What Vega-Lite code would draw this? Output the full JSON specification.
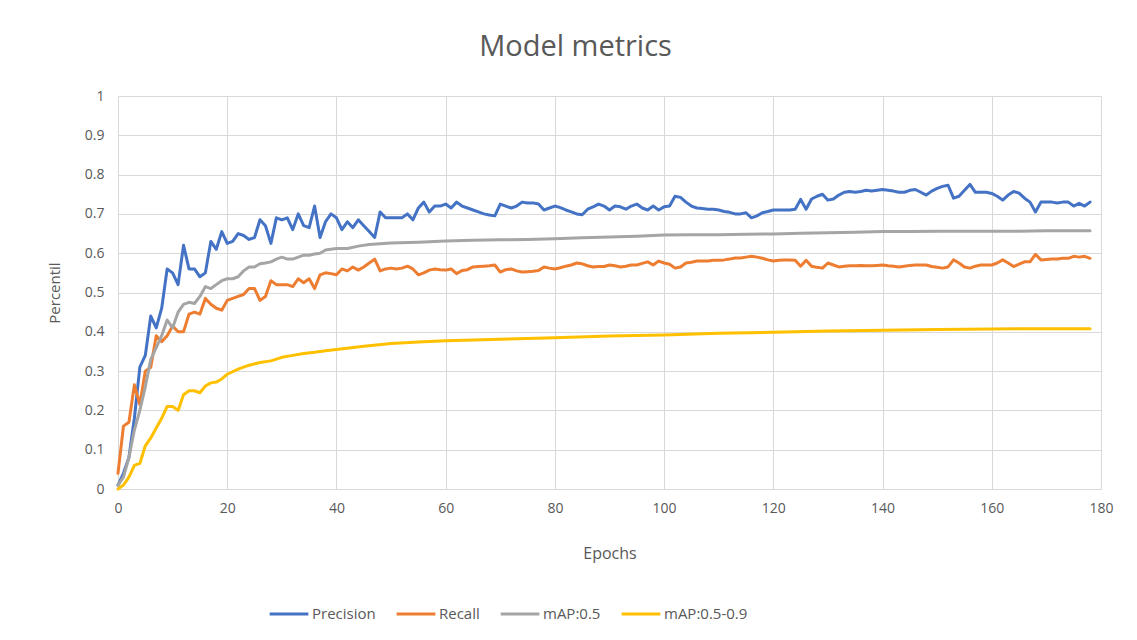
{
  "$schema": "https://vega.github.io/schema/vega-lite/v6.json",
  "width": 983,
  "height": 393,
  "autosize": {"type": "none"},
  "padding": {"left": 118, "top": 96, "right": 36, "bottom": 151},
  "background": "white",
  "title": {"text": "Model metrics", "fontSize": 29, "font": "Open Sans", "fontWeight": "normal", "color": "#595959", "anchor": "middle", "dx": -34, "offset": 4, "baseline": "alphabetic"},
  "config": {
    "view": {"stroke": null},
    "font": "Open Sans",
    "axis": {"labelFont": "Open Sans", "titleFont": "Open Sans", "labelColor": "#595959", "titleColor": "#595959", "titleFontWeight": "normal", "gridColor": "#D9D9D9", "gridWidth": 1, "domainColor": "#D9D9D9", "ticks": false, "labelFlush": false}
  },
  "data": {
    "values": [
      {"epoch":0,"metric":"Precision","value":0.01},{"epoch":1,"metric":"Precision","value":0.04},{"epoch":2,"metric":"Precision","value":0.08},{"epoch":3,"metric":"Precision","value":0.18},{"epoch":4,"metric":"Precision","value":0.31},{"epoch":5,"metric":"Precision","value":0.34},{"epoch":6,"metric":"Precision","value":0.44},{"epoch":7,"metric":"Precision","value":0.41},{"epoch":8,"metric":"Precision","value":0.46},{"epoch":9,"metric":"Precision","value":0.56},
      {"epoch":10,"metric":"Precision","value":0.55},{"epoch":11,"metric":"Precision","value":0.52},{"epoch":12,"metric":"Precision","value":0.62},{"epoch":13,"metric":"Precision","value":0.56},{"epoch":14,"metric":"Precision","value":0.56},{"epoch":15,"metric":"Precision","value":0.54},{"epoch":16,"metric":"Precision","value":0.55},{"epoch":17,"metric":"Precision","value":0.63},{"epoch":18,"metric":"Precision","value":0.61},{"epoch":19,"metric":"Precision","value":0.655},
      {"epoch":20,"metric":"Precision","value":0.625},{"epoch":21,"metric":"Precision","value":0.63},{"epoch":22,"metric":"Precision","value":0.65},{"epoch":23,"metric":"Precision","value":0.645},{"epoch":24,"metric":"Precision","value":0.635},{"epoch":25,"metric":"Precision","value":0.64},{"epoch":26,"metric":"Precision","value":0.685},{"epoch":27,"metric":"Precision","value":0.67},{"epoch":28,"metric":"Precision","value":0.625},{"epoch":29,"metric":"Precision","value":0.69},
      {"epoch":30,"metric":"Precision","value":0.685},{"epoch":31,"metric":"Precision","value":0.69},{"epoch":32,"metric":"Precision","value":0.66},{"epoch":33,"metric":"Precision","value":0.7},{"epoch":34,"metric":"Precision","value":0.67},{"epoch":35,"metric":"Precision","value":0.665},{"epoch":36,"metric":"Precision","value":0.72},{"epoch":37,"metric":"Precision","value":0.64},{"epoch":38,"metric":"Precision","value":0.68},{"epoch":39,"metric":"Precision","value":0.7},
      {"epoch":40,"metric":"Precision","value":0.69},{"epoch":41,"metric":"Precision","value":0.66},{"epoch":42,"metric":"Precision","value":0.68},{"epoch":43,"metric":"Precision","value":0.665},{"epoch":44,"metric":"Precision","value":0.685},{"epoch":45,"metric":"Precision","value":0.67},{"epoch":46,"metric":"Precision","value":0.655},{"epoch":47,"metric":"Precision","value":0.64},{"epoch":48,"metric":"Precision","value":0.705},{"epoch":49,"metric":"Precision","value":0.69},
      {"epoch":50,"metric":"Precision","value":0.69},{"epoch":51,"metric":"Precision","value":0.69},{"epoch":52,"metric":"Precision","value":0.69},{"epoch":53,"metric":"Precision","value":0.7},{"epoch":54,"metric":"Precision","value":0.685},{"epoch":55,"metric":"Precision","value":0.715},{"epoch":56,"metric":"Precision","value":0.73},{"epoch":57,"metric":"Precision","value":0.705},{"epoch":58,"metric":"Precision","value":0.72},{"epoch":59,"metric":"Precision","value":0.72},
      {"epoch":60,"metric":"Precision","value":0.725},{"epoch":61,"metric":"Precision","value":0.715},{"epoch":62,"metric":"Precision","value":0.73},{"epoch":63,"metric":"Precision","value":0.72},{"epoch":64,"metric":"Precision","value":0.715},{"epoch":65,"metric":"Precision","value":0.71},{"epoch":66,"metric":"Precision","value":0.705},{"epoch":67,"metric":"Precision","value":0.7},{"epoch":68,"metric":"Precision","value":0.697},{"epoch":69,"metric":"Precision","value":0.695},
      {"epoch":70,"metric":"Precision","value":0.725},{"epoch":71,"metric":"Precision","value":0.72},{"epoch":72,"metric":"Precision","value":0.715},{"epoch":73,"metric":"Precision","value":0.72},{"epoch":74,"metric":"Precision","value":0.73},{"epoch":75,"metric":"Precision","value":0.728},{"epoch":76,"metric":"Precision","value":0.728},{"epoch":77,"metric":"Precision","value":0.725},{"epoch":78,"metric":"Precision","value":0.71},{"epoch":79,"metric":"Precision","value":0.715},
      {"epoch":80,"metric":"Precision","value":0.72},{"epoch":81,"metric":"Precision","value":0.716},{"epoch":82,"metric":"Precision","value":0.71},{"epoch":83,"metric":"Precision","value":0.705},{"epoch":84,"metric":"Precision","value":0.7},{"epoch":85,"metric":"Precision","value":0.698},{"epoch":86,"metric":"Precision","value":0.712},{"epoch":87,"metric":"Precision","value":0.718},{"epoch":88,"metric":"Precision","value":0.725},{"epoch":89,"metric":"Precision","value":0.72},
      {"epoch":90,"metric":"Precision","value":0.71},{"epoch":91,"metric":"Precision","value":0.72},{"epoch":92,"metric":"Precision","value":0.718},{"epoch":93,"metric":"Precision","value":0.712},{"epoch":94,"metric":"Precision","value":0.72},{"epoch":95,"metric":"Precision","value":0.725},{"epoch":96,"metric":"Precision","value":0.715},{"epoch":97,"metric":"Precision","value":0.71},{"epoch":98,"metric":"Precision","value":0.72},{"epoch":99,"metric":"Precision","value":0.71},
      {"epoch":100,"metric":"Precision","value":0.718},{"epoch":101,"metric":"Precision","value":0.72},{"epoch":102,"metric":"Precision","value":0.745},{"epoch":103,"metric":"Precision","value":0.742},{"epoch":104,"metric":"Precision","value":0.73},{"epoch":105,"metric":"Precision","value":0.72},{"epoch":106,"metric":"Precision","value":0.715},{"epoch":107,"metric":"Precision","value":0.714},{"epoch":108,"metric":"Precision","value":0.712},{"epoch":109,"metric":"Precision","value":0.712},
      {"epoch":110,"metric":"Precision","value":0.71},{"epoch":111,"metric":"Precision","value":0.706},{"epoch":112,"metric":"Precision","value":0.704},{"epoch":113,"metric":"Precision","value":0.7},{"epoch":114,"metric":"Precision","value":0.7},{"epoch":115,"metric":"Precision","value":0.703},{"epoch":116,"metric":"Precision","value":0.69},{"epoch":117,"metric":"Precision","value":0.695},{"epoch":118,"metric":"Precision","value":0.703},{"epoch":119,"metric":"Precision","value":0.706},
      {"epoch":120,"metric":"Precision","value":0.71},{"epoch":121,"metric":"Precision","value":0.71},{"epoch":122,"metric":"Precision","value":0.71},{"epoch":123,"metric":"Precision","value":0.71},{"epoch":124,"metric":"Precision","value":0.712},{"epoch":125,"metric":"Precision","value":0.737},{"epoch":126,"metric":"Precision","value":0.712},{"epoch":127,"metric":"Precision","value":0.738},{"epoch":128,"metric":"Precision","value":0.745},{"epoch":129,"metric":"Precision","value":0.75},
      {"epoch":130,"metric":"Precision","value":0.735},{"epoch":131,"metric":"Precision","value":0.738},{"epoch":132,"metric":"Precision","value":0.748},{"epoch":133,"metric":"Precision","value":0.755},{"epoch":134,"metric":"Precision","value":0.757},{"epoch":135,"metric":"Precision","value":0.755},{"epoch":136,"metric":"Precision","value":0.757},{"epoch":137,"metric":"Precision","value":0.76},{"epoch":138,"metric":"Precision","value":0.758},{"epoch":139,"metric":"Precision","value":0.76},
      {"epoch":140,"metric":"Precision","value":0.762},{"epoch":141,"metric":"Precision","value":0.76},{"epoch":142,"metric":"Precision","value":0.758},{"epoch":143,"metric":"Precision","value":0.755},{"epoch":144,"metric":"Precision","value":0.755},{"epoch":145,"metric":"Precision","value":0.76},{"epoch":146,"metric":"Precision","value":0.762},{"epoch":147,"metric":"Precision","value":0.755},{"epoch":148,"metric":"Precision","value":0.748},{"epoch":149,"metric":"Precision","value":0.758},
      {"epoch":150,"metric":"Precision","value":0.765},{"epoch":151,"metric":"Precision","value":0.77},{"epoch":152,"metric":"Precision","value":0.773},{"epoch":153,"metric":"Precision","value":0.74},{"epoch":154,"metric":"Precision","value":0.745},{"epoch":155,"metric":"Precision","value":0.76},{"epoch":156,"metric":"Precision","value":0.775},{"epoch":157,"metric":"Precision","value":0.755},{"epoch":158,"metric":"Precision","value":0.755},{"epoch":159,"metric":"Precision","value":0.755},
      {"epoch":160,"metric":"Precision","value":0.752},{"epoch":161,"metric":"Precision","value":0.745},{"epoch":162,"metric":"Precision","value":0.735},{"epoch":163,"metric":"Precision","value":0.748},{"epoch":164,"metric":"Precision","value":0.757},{"epoch":165,"metric":"Precision","value":0.753},{"epoch":166,"metric":"Precision","value":0.74},{"epoch":167,"metric":"Precision","value":0.73},{"epoch":168,"metric":"Precision","value":0.705},{"epoch":169,"metric":"Precision","value":0.73},
      {"epoch":170,"metric":"Precision","value":0.73},{"epoch":171,"metric":"Precision","value":0.73},{"epoch":172,"metric":"Precision","value":0.728},{"epoch":173,"metric":"Precision","value":0.73},{"epoch":174,"metric":"Precision","value":0.73},{"epoch":175,"metric":"Precision","value":0.72},{"epoch":176,"metric":"Precision","value":0.727},{"epoch":177,"metric":"Precision","value":0.72},{"epoch":178,"metric":"Precision","value":0.73},

      {"epoch":0,"metric":"Recall","value":0.04},{"epoch":1,"metric":"Recall","value":0.16},{"epoch":2,"metric":"Recall","value":0.17},{"epoch":3,"metric":"Recall","value":0.265},{"epoch":4,"metric":"Recall","value":0.215},{"epoch":5,"metric":"Recall","value":0.3},{"epoch":6,"metric":"Recall","value":0.31},{"epoch":7,"metric":"Recall","value":0.39},{"epoch":8,"metric":"Recall","value":0.375},{"epoch":9,"metric":"Recall","value":0.39},
      {"epoch":10,"metric":"Recall","value":0.415},{"epoch":11,"metric":"Recall","value":0.4},{"epoch":12,"metric":"Recall","value":0.4},{"epoch":13,"metric":"Recall","value":0.445},{"epoch":14,"metric":"Recall","value":0.45},{"epoch":15,"metric":"Recall","value":0.445},{"epoch":16,"metric":"Recall","value":0.485},{"epoch":17,"metric":"Recall","value":0.47},{"epoch":18,"metric":"Recall","value":0.46},{"epoch":19,"metric":"Recall","value":0.455},
      {"epoch":20,"metric":"Recall","value":0.48},{"epoch":21,"metric":"Recall","value":0.485},{"epoch":22,"metric":"Recall","value":0.49},{"epoch":23,"metric":"Recall","value":0.495},{"epoch":24,"metric":"Recall","value":0.51},{"epoch":25,"metric":"Recall","value":0.51},{"epoch":26,"metric":"Recall","value":0.48},{"epoch":27,"metric":"Recall","value":0.49},{"epoch":28,"metric":"Recall","value":0.53},{"epoch":29,"metric":"Recall","value":0.52},
      {"epoch":30,"metric":"Recall","value":0.52},{"epoch":31,"metric":"Recall","value":0.52},{"epoch":32,"metric":"Recall","value":0.515},{"epoch":33,"metric":"Recall","value":0.535},{"epoch":34,"metric":"Recall","value":0.525},{"epoch":35,"metric":"Recall","value":0.535},{"epoch":36,"metric":"Recall","value":0.51},{"epoch":37,"metric":"Recall","value":0.545},{"epoch":38,"metric":"Recall","value":0.55},{"epoch":39,"metric":"Recall","value":0.548},
      {"epoch":40,"metric":"Recall","value":0.545},{"epoch":41,"metric":"Recall","value":0.56},{"epoch":42,"metric":"Recall","value":0.555},{"epoch":43,"metric":"Recall","value":0.565},{"epoch":44,"metric":"Recall","value":0.557},{"epoch":45,"metric":"Recall","value":0.565},{"epoch":46,"metric":"Recall","value":0.575},{"epoch":47,"metric":"Recall","value":0.585},{"epoch":48,"metric":"Recall","value":0.555},{"epoch":49,"metric":"Recall","value":0.56},
      {"epoch":50,"metric":"Recall","value":0.562},{"epoch":51,"metric":"Recall","value":0.56},{"epoch":52,"metric":"Recall","value":0.562},{"epoch":53,"metric":"Recall","value":0.567},{"epoch":54,"metric":"Recall","value":0.56},{"epoch":55,"metric":"Recall","value":0.545},{"epoch":56,"metric":"Recall","value":0.55},{"epoch":57,"metric":"Recall","value":0.557},{"epoch":58,"metric":"Recall","value":0.56},{"epoch":59,"metric":"Recall","value":0.558},
      {"epoch":60,"metric":"Recall","value":0.557},{"epoch":61,"metric":"Recall","value":0.56},{"epoch":62,"metric":"Recall","value":0.548},{"epoch":63,"metric":"Recall","value":0.556},{"epoch":64,"metric":"Recall","value":0.558},{"epoch":65,"metric":"Recall","value":0.565},{"epoch":66,"metric":"Recall","value":0.566},{"epoch":67,"metric":"Recall","value":0.567},{"epoch":68,"metric":"Recall","value":0.568},{"epoch":69,"metric":"Recall","value":0.57},
      {"epoch":70,"metric":"Recall","value":0.552},{"epoch":71,"metric":"Recall","value":0.558},{"epoch":72,"metric":"Recall","value":0.56},{"epoch":73,"metric":"Recall","value":0.555},{"epoch":74,"metric":"Recall","value":0.552},{"epoch":75,"metric":"Recall","value":0.553},{"epoch":76,"metric":"Recall","value":0.554},{"epoch":77,"metric":"Recall","value":0.556},{"epoch":78,"metric":"Recall","value":0.565},{"epoch":79,"metric":"Recall","value":0.562},
      {"epoch":80,"metric":"Recall","value":0.56},{"epoch":81,"metric":"Recall","value":0.563},{"epoch":82,"metric":"Recall","value":0.567},{"epoch":83,"metric":"Recall","value":0.57},{"epoch":84,"metric":"Recall","value":0.575},{"epoch":85,"metric":"Recall","value":0.573},{"epoch":86,"metric":"Recall","value":0.568},{"epoch":87,"metric":"Recall","value":0.565},{"epoch":88,"metric":"Recall","value":0.566},{"epoch":89,"metric":"Recall","value":0.566},
      {"epoch":90,"metric":"Recall","value":0.57},{"epoch":91,"metric":"Recall","value":0.568},{"epoch":92,"metric":"Recall","value":0.565},{"epoch":93,"metric":"Recall","value":0.567},{"epoch":94,"metric":"Recall","value":0.57},{"epoch":95,"metric":"Recall","value":0.57},{"epoch":96,"metric":"Recall","value":0.574},{"epoch":97,"metric":"Recall","value":0.578},{"epoch":98,"metric":"Recall","value":0.57},{"epoch":99,"metric":"Recall","value":0.58},
      {"epoch":100,"metric":"Recall","value":0.575},{"epoch":101,"metric":"Recall","value":0.572},{"epoch":102,"metric":"Recall","value":0.562},{"epoch":103,"metric":"Recall","value":0.565},{"epoch":104,"metric":"Recall","value":0.575},{"epoch":105,"metric":"Recall","value":0.577},{"epoch":106,"metric":"Recall","value":0.58},{"epoch":107,"metric":"Recall","value":0.58},{"epoch":108,"metric":"Recall","value":0.58},{"epoch":109,"metric":"Recall","value":0.582},
      {"epoch":110,"metric":"Recall","value":0.582},{"epoch":111,"metric":"Recall","value":0.583},{"epoch":112,"metric":"Recall","value":0.585},{"epoch":113,"metric":"Recall","value":0.588},{"epoch":114,"metric":"Recall","value":0.588},{"epoch":115,"metric":"Recall","value":0.59},{"epoch":116,"metric":"Recall","value":0.592},{"epoch":117,"metric":"Recall","value":0.59},{"epoch":118,"metric":"Recall","value":0.587},{"epoch":119,"metric":"Recall","value":0.583},
      {"epoch":120,"metric":"Recall","value":0.58},{"epoch":121,"metric":"Recall","value":0.582},{"epoch":122,"metric":"Recall","value":0.583},{"epoch":123,"metric":"Recall","value":0.583},{"epoch":124,"metric":"Recall","value":0.582},{"epoch":125,"metric":"Recall","value":0.567},{"epoch":126,"metric":"Recall","value":0.582},{"epoch":127,"metric":"Recall","value":0.567},{"epoch":128,"metric":"Recall","value":0.564},{"epoch":129,"metric":"Recall","value":0.562},
      {"epoch":130,"metric":"Recall","value":0.575},{"epoch":131,"metric":"Recall","value":0.57},{"epoch":132,"metric":"Recall","value":0.565},{"epoch":133,"metric":"Recall","value":0.567},{"epoch":134,"metric":"Recall","value":0.568},{"epoch":135,"metric":"Recall","value":0.568},{"epoch":136,"metric":"Recall","value":0.569},{"epoch":137,"metric":"Recall","value":0.568},{"epoch":138,"metric":"Recall","value":0.568},{"epoch":139,"metric":"Recall","value":0.569},
      {"epoch":140,"metric":"Recall","value":0.57},{"epoch":141,"metric":"Recall","value":0.568},{"epoch":142,"metric":"Recall","value":0.567},{"epoch":143,"metric":"Recall","value":0.565},{"epoch":144,"metric":"Recall","value":0.567},{"epoch":145,"metric":"Recall","value":0.569},{"epoch":146,"metric":"Recall","value":0.57},{"epoch":147,"metric":"Recall","value":0.57},{"epoch":148,"metric":"Recall","value":0.57},{"epoch":149,"metric":"Recall","value":0.566},
      {"epoch":150,"metric":"Recall","value":0.564},{"epoch":151,"metric":"Recall","value":0.562},{"epoch":152,"metric":"Recall","value":0.565},{"epoch":153,"metric":"Recall","value":0.583},{"epoch":154,"metric":"Recall","value":0.575},{"epoch":155,"metric":"Recall","value":0.565},{"epoch":156,"metric":"Recall","value":0.562},{"epoch":157,"metric":"Recall","value":0.567},{"epoch":158,"metric":"Recall","value":0.57},{"epoch":159,"metric":"Recall","value":0.57},
      {"epoch":160,"metric":"Recall","value":0.57},{"epoch":161,"metric":"Recall","value":0.575},{"epoch":162,"metric":"Recall","value":0.583},{"epoch":163,"metric":"Recall","value":0.575},{"epoch":164,"metric":"Recall","value":0.566},{"epoch":165,"metric":"Recall","value":0.572},{"epoch":166,"metric":"Recall","value":0.578},{"epoch":167,"metric":"Recall","value":0.578},{"epoch":168,"metric":"Recall","value":0.597},{"epoch":169,"metric":"Recall","value":0.583},
      {"epoch":170,"metric":"Recall","value":0.584},{"epoch":171,"metric":"Recall","value":0.585},{"epoch":172,"metric":"Recall","value":0.585},{"epoch":173,"metric":"Recall","value":0.587},{"epoch":174,"metric":"Recall","value":0.587},{"epoch":175,"metric":"Recall","value":0.592},{"epoch":176,"metric":"Recall","value":0.59},{"epoch":177,"metric":"Recall","value":0.592},{"epoch":178,"metric":"Recall","value":0.587},

      {"epoch":0,"metric":"mAP:0.5","value":0.01},{"epoch":1,"metric":"mAP:0.5","value":0.03},{"epoch":2,"metric":"mAP:0.5","value":0.08},{"epoch":3,"metric":"mAP:0.5","value":0.15},{"epoch":4,"metric":"mAP:0.5","value":0.2},{"epoch":5,"metric":"mAP:0.5","value":0.26},{"epoch":6,"metric":"mAP:0.5","value":0.33},{"epoch":7,"metric":"mAP:0.5","value":0.36},{"epoch":8,"metric":"mAP:0.5","value":0.39},{"epoch":9,"metric":"mAP:0.5","value":0.43},
      {"epoch":10,"metric":"mAP:0.5","value":0.41},{"epoch":11,"metric":"mAP:0.5","value":0.45},{"epoch":12,"metric":"mAP:0.5","value":0.47},{"epoch":13,"metric":"mAP:0.5","value":0.475},{"epoch":14,"metric":"mAP:0.5","value":0.472},{"epoch":15,"metric":"mAP:0.5","value":0.49},{"epoch":16,"metric":"mAP:0.5","value":0.515},{"epoch":17,"metric":"mAP:0.5","value":0.51},{"epoch":18,"metric":"mAP:0.5","value":0.52},{"epoch":19,"metric":"mAP:0.5","value":0.53},
      {"epoch":20,"metric":"mAP:0.5","value":0.535},{"epoch":21,"metric":"mAP:0.5","value":0.535},{"epoch":22,"metric":"mAP:0.5","value":0.54},{"epoch":23,"metric":"mAP:0.5","value":0.555},{"epoch":24,"metric":"mAP:0.5","value":0.565},{"epoch":25,"metric":"mAP:0.5","value":0.565},{"epoch":26,"metric":"mAP:0.5","value":0.573},{"epoch":27,"metric":"mAP:0.5","value":0.575},{"epoch":28,"metric":"mAP:0.5","value":0.578},{"epoch":29,"metric":"mAP:0.5","value":0.585},
      {"epoch":30,"metric":"mAP:0.5","value":0.59},{"epoch":31,"metric":"mAP:0.5","value":0.585},{"epoch":32,"metric":"mAP:0.5","value":0.585},{"epoch":33,"metric":"mAP:0.5","value":0.59},{"epoch":34,"metric":"mAP:0.5","value":0.595},{"epoch":35,"metric":"mAP:0.5","value":0.595},{"epoch":36,"metric":"mAP:0.5","value":0.598},{"epoch":37,"metric":"mAP:0.5","value":0.6},{"epoch":38,"metric":"mAP:0.5","value":0.608},{"epoch":39,"metric":"mAP:0.5","value":0.61},
      {"epoch":40,"metric":"mAP:0.5","value":0.612},{"epoch":42,"metric":"mAP:0.5","value":0.612},{"epoch":44,"metric":"mAP:0.5","value":0.618},{"epoch":46,"metric":"mAP:0.5","value":0.622},{"epoch":48,"metric":"mAP:0.5","value":0.624},{"epoch":50,"metric":"mAP:0.5","value":0.626},{"epoch":55,"metric":"mAP:0.5","value":0.628},{"epoch":60,"metric":"mAP:0.5","value":0.631},{"epoch":65,"metric":"mAP:0.5","value":0.633},{"epoch":70,"metric":"mAP:0.5","value":0.634},
      {"epoch":75,"metric":"mAP:0.5","value":0.635},{"epoch":80,"metric":"mAP:0.5","value":0.637},{"epoch":85,"metric":"mAP:0.5","value":0.639},{"epoch":90,"metric":"mAP:0.5","value":0.641},{"epoch":95,"metric":"mAP:0.5","value":0.643},{"epoch":100,"metric":"mAP:0.5","value":0.646},{"epoch":105,"metric":"mAP:0.5","value":0.647},{"epoch":110,"metric":"mAP:0.5","value":0.647},{"epoch":115,"metric":"mAP:0.5","value":0.648},{"epoch":120,"metric":"mAP:0.5","value":0.649},
      {"epoch":125,"metric":"mAP:0.5","value":0.651},{"epoch":130,"metric":"mAP:0.5","value":0.652},{"epoch":135,"metric":"mAP:0.5","value":0.653},{"epoch":140,"metric":"mAP:0.5","value":0.655},{"epoch":145,"metric":"mAP:0.5","value":0.655},{"epoch":150,"metric":"mAP:0.5","value":0.656},{"epoch":155,"metric":"mAP:0.5","value":0.656},{"epoch":160,"metric":"mAP:0.5","value":0.656},{"epoch":165,"metric":"mAP:0.5","value":0.656},{"epoch":170,"metric":"mAP:0.5","value":0.657},{"epoch":175,"metric":"mAP:0.5","value":0.657},{"epoch":178,"metric":"mAP:0.5","value":0.657},

      {"epoch":0,"metric":"mAP:0.5-0.9","value":0.0},{"epoch":1,"metric":"mAP:0.5-0.9","value":0.01},{"epoch":2,"metric":"mAP:0.5-0.9","value":0.03},{"epoch":3,"metric":"mAP:0.5-0.9","value":0.06},{"epoch":4,"metric":"mAP:0.5-0.9","value":0.065},{"epoch":5,"metric":"mAP:0.5-0.9","value":0.11},{"epoch":6,"metric":"mAP:0.5-0.9","value":0.13},{"epoch":7,"metric":"mAP:0.5-0.9","value":0.155},{"epoch":8,"metric":"mAP:0.5-0.9","value":0.18},{"epoch":9,"metric":"mAP:0.5-0.9","value":0.21},
      {"epoch":10,"metric":"mAP:0.5-0.9","value":0.21},{"epoch":11,"metric":"mAP:0.5-0.9","value":0.2},{"epoch":12,"metric":"mAP:0.5-0.9","value":0.24},{"epoch":13,"metric":"mAP:0.5-0.9","value":0.25},{"epoch":14,"metric":"mAP:0.5-0.9","value":0.25},{"epoch":15,"metric":"mAP:0.5-0.9","value":0.245},{"epoch":16,"metric":"mAP:0.5-0.9","value":0.262},{"epoch":17,"metric":"mAP:0.5-0.9","value":0.27},{"epoch":18,"metric":"mAP:0.5-0.9","value":0.272},{"epoch":19,"metric":"mAP:0.5-0.9","value":0.28},
      {"epoch":20,"metric":"mAP:0.5-0.9","value":0.292},{"epoch":22,"metric":"mAP:0.5-0.9","value":0.305},{"epoch":24,"metric":"mAP:0.5-0.9","value":0.315},{"epoch":26,"metric":"mAP:0.5-0.9","value":0.322},{"epoch":28,"metric":"mAP:0.5-0.9","value":0.326},{"epoch":30,"metric":"mAP:0.5-0.9","value":0.335},{"epoch":32,"metric":"mAP:0.5-0.9","value":0.34},{"epoch":34,"metric":"mAP:0.5-0.9","value":0.345},{"epoch":36,"metric":"mAP:0.5-0.9","value":0.348},{"epoch":38,"metric":"mAP:0.5-0.9","value":0.352},
      {"epoch":40,"metric":"mAP:0.5-0.9","value":0.355},{"epoch":45,"metric":"mAP:0.5-0.9","value":0.363},{"epoch":50,"metric":"mAP:0.5-0.9","value":0.37},{"epoch":55,"metric":"mAP:0.5-0.9","value":0.374},{"epoch":60,"metric":"mAP:0.5-0.9","value":0.377},{"epoch":70,"metric":"mAP:0.5-0.9","value":0.381},{"epoch":80,"metric":"mAP:0.5-0.9","value":0.385},{"epoch":90,"metric":"mAP:0.5-0.9","value":0.389},{"epoch":100,"metric":"mAP:0.5-0.9","value":0.392},{"epoch":110,"metric":"mAP:0.5-0.9","value":0.396},
      {"epoch":120,"metric":"mAP:0.5-0.9","value":0.399},{"epoch":130,"metric":"mAP:0.5-0.9","value":0.402},{"epoch":140,"metric":"mAP:0.5-0.9","value":0.404},{"epoch":150,"metric":"mAP:0.5-0.9","value":0.406},{"epoch":160,"metric":"mAP:0.5-0.9","value":0.407},{"epoch":170,"metric":"mAP:0.5-0.9","value":0.408},{"epoch":178,"metric":"mAP:0.5-0.9","value":0.408}
    ]
  },
  "mark": {"type": "line", "strokeWidth": 3, "strokeJoin": "round", "strokeCap": "round"},
  "encoding": {
    "x": {
      "field": "epoch", "type": "quantitative",
      "scale": {"domain": [0, 180], "nice": false},
      "axis": {"values": [0, 20, 40, 60, 80, 100, 120, 140, 160, 180], "labelFontSize": 14, "labelPadding": 12, "title": "Epochs", "titleFontSize": 16, "titlePadding": 30, "domain": true}
    },
    "y": {
      "field": "value", "type": "quantitative",
      "scale": {"domain": [0, 1], "nice": false},
      "axis": {"values": [0, 0.1, 0.2, 0.3, 0.4, 0.5, 0.6, 0.7, 0.8, 0.9, 1], "format": ".1~f", "labelFontSize": 14, "labelPadding": 14, "title": "Percentil", "titleFontSize": 15, "titlePadding": 22, "domain": false}
    },
    "color": {
      "field": "metric", "type": "nominal",
      "scale": {"domain": ["Precision", "Recall", "mAP:0.5", "mAP:0.5-0.9"], "range": ["#4472C4", "#ED7D31", "#A5A5A5", "#FFC000"]},
      "legend": {"title": null, "orient": "none", "legendX": 150, "legendY": 497, "direction": "horizontal", "symbolType": "stroke", "symbolSize": 1500, "symbolStrokeWidth": 3, "labelFontSize": 15, "labelColor": "#595959", "labelFont": "Open Sans", "columnPadding": 14, "labelOffset": 2}
    }
  }
}
